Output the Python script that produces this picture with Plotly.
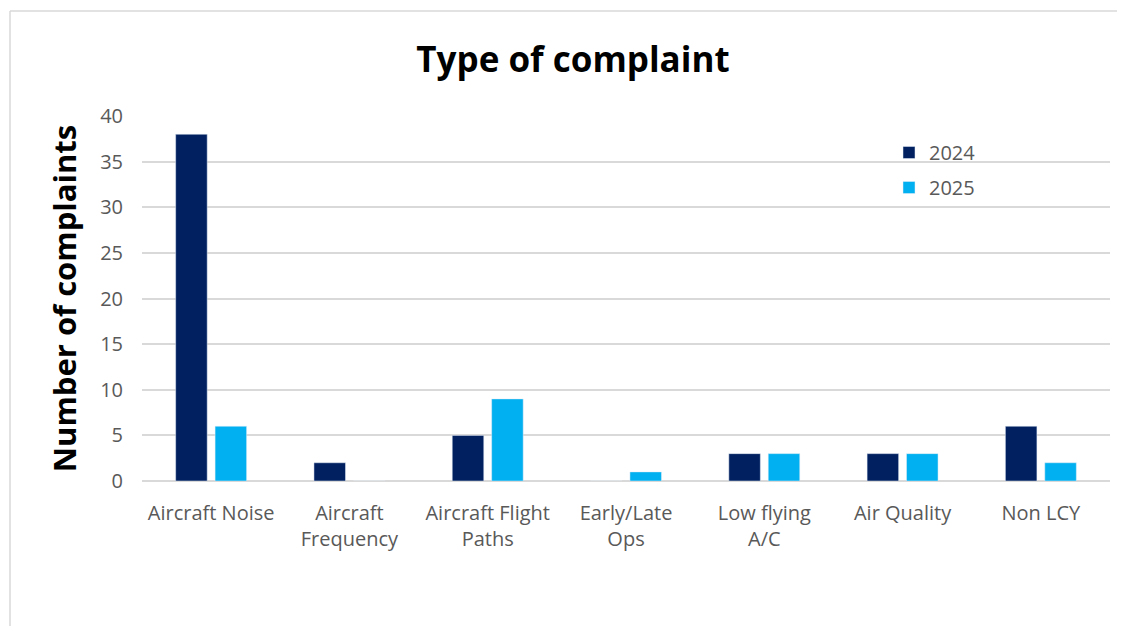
import plotly.graph_objects as go

categories = ["Aircraft Noise", "Aircraft<br>Frequency", "Aircraft Flight<br>Paths",
              "Early/Late<br>Ops", "Low flying<br>A/C", "Air Quality", "Non LCY"]
values_2024 = [38, 2, 5, 0, 3, 3, 6]
values_2025 = [6, 0, 9, 1, 3, 3, 2]

OFF = 8  # page body margin
W, H = 1125 - OFF, 626 - OFF
L, R, T, B = 142 - OFF, 15, 116 - OFF, 145
pw, ph = W - L - R, H - T - B

font = "Open Sans, Liberation Sans, sans-serif"
fig = go.Figure()
fig.add_trace(go.Bar(name="2024", x=categories, y=values_2024, marker_color="#002060", legendgroup="a"))
fig.add_trace(go.Bar(name="2025", x=categories, y=values_2025, marker_color="#00B0F0", legendgroup="b"))

def px2x(px):
    return (px - OFF - L) / pw

def py2y(py):
    return (H - B - (py - OFF)) / ph

border = dict(color="#D9D9D9", width=1.5)
fig.update_layout(
    width=W, height=H,
    margin=dict(l=L, r=R, t=T, b=B),
    paper_bgcolor="white", plot_bgcolor="white",
    barmode="group", bargap=0.43, bargroupgap=0.2,
    title=dict(text="<b>Type of complaint</b>", x=(573 - OFF) / W, xanchor="center",
               y=1 - (60 - OFF) / H, yanchor="middle",
               font=dict(family=font, size=35, color="black")),
    legend=dict(x=px2x(889), y=py2y(133), xanchor="left", yanchor="top",
                bgcolor="rgba(0,0,0,0)", font=dict(family=font, size=20, color="#595959"),
                itemwidth=30, tracegroupgap=6),
    xaxis=dict(tickfont=dict(family=font, size=20, color="#595959"),
               showline=False, ticks="", showgrid=False, ticklabelstandoff=18),
    yaxis=dict(range=[0, 40], dtick=5, showgrid=True, gridcolor="#D9D9D9", gridwidth=2,
               zeroline=True, zerolinecolor="#D9D9D9", zerolinewidth=2,
               tickfont=dict(family=font, size=20, color="#595959"), ticklabelstandoff=18,
               title=dict(text="<b>Number of complaints</b>", standoff=14,
                          font=dict(family=font, size=31, color="black"))),
    shapes=[
        dict(type="line", xref="paper", yref="paper",
             x0=px2x(10), x1=px2x(1160), y0=py2y(11), y1=py2y(11), line=border, layer="below"),
        dict(type="line", xref="paper", yref="paper",
             x0=px2x(10), x1=px2x(10), y0=py2y(11), y1=py2y(680), line=border, layer="below"),
    ],
)
fig.write_html("out.html")
